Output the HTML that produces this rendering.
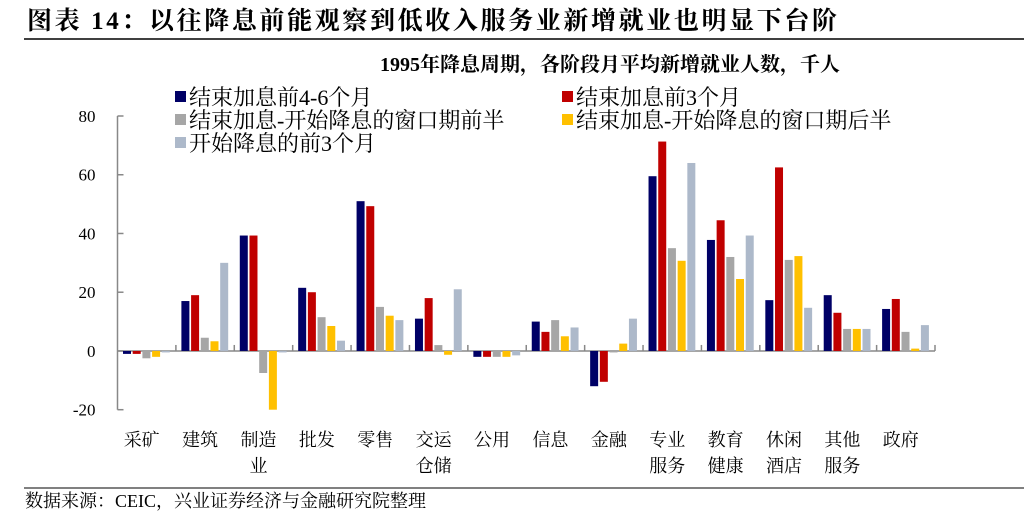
<!DOCTYPE html>
<html><head><meta charset="utf-8"><style>
body{margin:0;background:#fff;width:1024px;height:515px;overflow:hidden;font-family:"Liberation Serif","Noto Serif CJK SC",serif;}
</style></head><body>
<svg width="1024" height="515" xmlns="http://www.w3.org/2000/svg">
<text x="27" y="29" font-size="25" font-weight="bold" fill="#000" textLength="810" lengthAdjust="spacing" font-family="'Liberation Serif','Noto Serif CJK SC',serif">图表 14：以往降息前能观察到低收入服务业新增就业也明显下台阶</text>
<line x1="24" y1="39" x2="1024" y2="39" stroke="#000" stroke-width="1.5"/>
<text x="840" y="71" font-size="20" font-weight="bold" text-anchor="end" font-family="'Liberation Serif','Noto Serif CJK SC',serif">1995年降息周期，各阶段月平均新增就业人数，千人</text>
<g id="legend" font-size="22" font-family="'Liberation Serif','Noto Serif CJK SC',serif"></g>
<g id="axes"></g>
<g id="bars"></g>
<line x1="24" y1="488" x2="1024" y2="488" stroke="#000" stroke-width="1"/>
<text x="25" y="507" font-size="18" font-family="'Liberation Serif','Noto Serif CJK SC',serif">数据来源：CEIC，兴业证券经济与金融研究院整理</text>
</svg>
<script>
const categories=[["采矿"],["建筑"],["制造","业"],["批发"],["零售"],["交运","仓储"],["公用"],["信息"],["金融"],["专业","服务"],["教育","健康"],["休闲","酒店"],["其他","服务"],["政府"]];
const seriesNames=["结束加息前4-6个月","结束加息前3个月","结束加息-开始降息的窗口期前半","结束加息-开始降息的窗口期后半","开始降息的前3个月"];
const seriesColors=["#000066","#c00000","#a6a6a6","#ffc000","#adb9ca"];
const s1=[-1,17,39.3,21.5,51,11,-2,10,-12,59.5,37.8,17.3,19,14.3];
const s2=[-1,19,39.3,20,49.3,18,-2,6.5,-10.5,71.3,44.5,62.5,13,17.7];
const s3=[-2.5,4.5,-7.5,11.5,15,2,-2,10.5,-0.5,35,32,31,7.5,6.5];
const s4=[-2,3.3,-20,8.5,12,-1.3,-2,5,2.5,30.7,24.5,32.3,7.5,0.8];
const s5=[-0.5,30,-0.5,3.5,10.5,21,-1.5,8,11,64,39.3,14.7,7.5,8.8];
const yTicks=[80,60,40,20,0,-20];
const series=[s1,s2,s3,s4,s5];
const NS="http://www.w3.org/2000/svg";
const x0=117.5,x1=935,yTop=116,yBot=409.7,vMax=80,vMin=-20;
const y=v=>yTop+(vMax-v)/(vMax-vMin)*(yBot-yTop);
const cw=(x1-x0)/categories.length;
function mk(tag,attrs,parent){const e=document.createElementNS(NS,tag);for(const k in attrs)e.setAttribute(k,attrs[k]);parent.appendChild(e);return e;}
const axes=document.getElementById('axes'),bars=document.getElementById('bars'),leg=document.getElementById('legend');
let a=mk('line',{x1:x0,y1:yTop,x2:x0,y2:yBot,stroke:'#888','stroke-width':1.5},axes);


yTicks.forEach(t=>{
 let l=mk('line',{x1:x0,y1:y(t),x2:x0+6,y2:y(t),stroke:'#888','stroke-width':1.5},axes);
 
 
 let tx=mk('text',{x:x0-22,y:y(t)+6,'text-anchor':'end','font-size':17},axes);
 tx.textContent=t;
 
 
});
let xa=mk('line',{x1:x0,y1:y(0),x2:x1,y2:y(0),stroke:'#888','stroke-width':1.5},axes);


categories.forEach((c,i)=>{
 const xb=x0+cw*(i+1);
 let tk=mk('line',{x1:xb,y1:y(0),x2:xb,y2:y(0)-6,stroke:'#888','stroke-width':1.5},axes);
 
 
 c.forEach((ln,j)=>{
  let tx=mk('text',{x:x0+cw*(i+0.5)-5,y:446+j*26,'text-anchor':'middle','font-size':18,'font-family':"'Liberation Serif','Noto Serif CJK SC',serif"},axes);
  tx.textContent=ln;
  
  
 });
 series.forEach((s,k)=>{
  const bx=x0+cw*i+5.5+k*9.7;
  const v=s[i];
  let r=mk('rect',{x:bx,y:Math.min(y(v),y(0)),width:8,height:Math.abs(y(v)-y(0)),fill:seriesColors[k]},bars);
  
  
 });
});
const legPos=[[175,105],[562,105],[175,128],[562,128],[175,151]];
seriesNames.forEach((n,k)=>{
 const g=mk('g',{},leg);
 
 
 mk('rect',{x:legPos[k][0],y:legPos[k][1]-14,width:11,height:11,fill:seriesColors[k]},g);
 const t=mk('text',{x:legPos[k][0]+14,y:legPos[k][1]},g);
 t.textContent=n;
});
</script>
</body></html>
